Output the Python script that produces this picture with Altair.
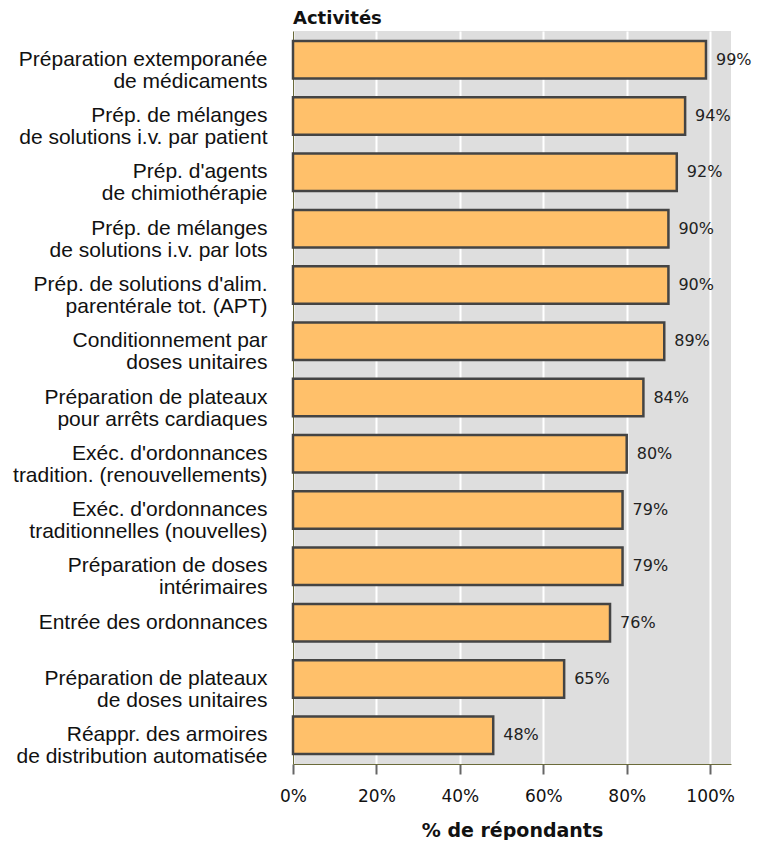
import altair as alt
import pandas as pd

categories = [
    "Préparation extemporanée|de médicaments ",
    "Prép. de mélanges|de solutions i.v. par patient",
    "Prép. d'agents|de chimiothérapie",
    "Prép. de mélanges|de solutions i.v. par lots",
    "Prép. de solutions d'alim.|parentérale tot. (APT)",
    "Conditionnement par|doses unitaires",
    "Préparation de plateaux|pour arrêts cardiaques",
    "Exéc. d'ordonnances|tradition. (renouvellements)",
    "Exéc. d'ordonnances|traditionnelles (nouvelles)",
    "Préparation de doses|intérimaires ",
    "Entrée des ordonnances ",
    "Préparation de plateaux|de doses unitaires ",
    "Réappr. des armoires|de distribution automatisée",
]
values = [99, 94, 92, 90, 90, 89, 84, 80, 79, 79, 76, 65, 48]
x_ticks = [0, 20, 40, 60, 80, 100]

df = pd.DataFrame({"cat": categories, "val": values})

y_enc = alt.Y(
    "cat:N",
    sort=categories,
    title=None,
    scale=alt.Scale(paddingInner=0.334, paddingOuter=0.178),
    axis=alt.Axis(
        labelExpr="split(datum.label, '|')",
        labelFont="Liberation Sans",
        labelFontSize=21,
        labelLineHeight=22,
        labelColor="#111111",
        labelPadding=26,
        labelLimit=400,
        ticks=False,
        grid=False,
        domainColor="#6b6b3a",
        domainWidth=1,
    ),
)

x_enc = alt.X(
    "val:Q",
    title="% de répondants",
    scale=alt.Scale(domain=[0, 105], nice=False),
    axis=alt.Axis(
        values=x_ticks,
        labelExpr="datum.value + '%'",
        labelFlush=False,
        labelFont="DejaVu Sans",
        labelFontSize=17,
        labelColor="#111111",
        labelPadding=14,
        tickSize=10,
        tickWidth=2,
        tickColor="#666666",
        domainColor="#6b6b3a",
        domainWidth=1,
        grid=True,
        gridColor="#ffffff",
        gridWidth=2,
        titleFont="DejaVu Sans",
        titleFontSize=19,
        titleFontWeight="bold",
        titleColor="#111111",
        titlePadding=17,
    ),
)

bars = alt.Chart(df).mark_bar(
    fill="#FFC06A", stroke="#444444", strokeWidth=2.5
).encode(x=x_enc, y=y_enc)

labels = alt.Chart(df).transform_calculate(
    lab="datum.val + '%'"
).mark_text(
    align="left", baseline="middle", dx=10,
    font="DejaVu Sans", fontSize=16, color="#222222"
).encode(
    x=alt.X("val:Q"),
    y=alt.Y("cat:N", sort=categories),
    text="lab:N",
)

chart = (bars + labels).properties(
    width=438,
    height=733,
    padding={"left": 4, "top": 2, "right": 0, "bottom": 0},
    title=alt.TitleParams(
        "Activités",
        anchor="start",
        frame="group",
        font="DejaVu Sans",
        fontSize=18,
        fontWeight="bold",
        color="#111111",
        offset=3,
    ),
).configure(background="white").configure_view(
    fill="#DEDEDE", stroke=None
)

chart.save("out.html", embed_options={"renderer": "svg", "actions": False})
